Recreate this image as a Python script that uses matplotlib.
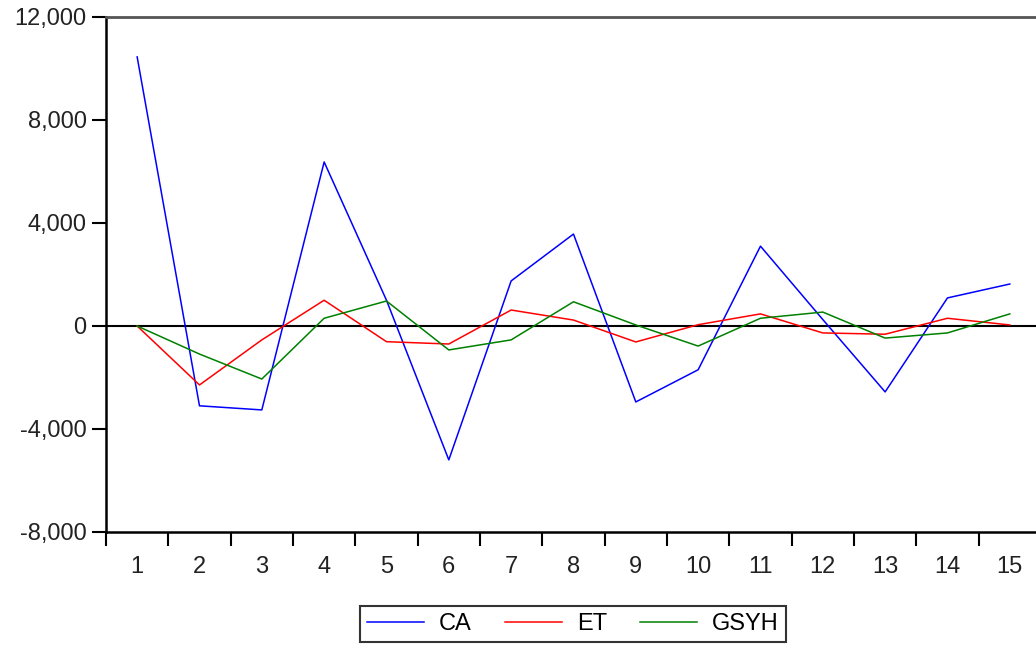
import matplotlib
matplotlib.use("Agg")
import matplotlib.pyplot as plt
from matplotlib.ticker import FuncFormatter

# Data
periods = list(range(1, 16))
ca = [10450, -3100, -3260, 6370, 1000, -5200, 1750, 3570, -2950, -1700,
      3100, 250, -2560, 1090, 1630]
et = [0, -2290, -540, 1000, -610, -700, 620, 230, -620, 50,
      470, -270, -320, 300, 40]
gsyh = [0, -1090, -2060, 300, 970, -930, -540, 940, 40, -780,
        300, 540, -470, -270, 470]

plt.rcParams['font.family'] = ['Liberation Sans', 'DejaVu Sans']

fig = plt.figure(figsize=(10.36, 6.46), dpi=100)
ax = fig.add_axes([0.1023, 0.1765, 0.9025, 0.7972])

ax.plot(periods, ca, color='#0000ff', lw=1.1, label='CA')
ax.plot(periods, et, color='#ff0000', lw=1.1, label='ET')
ax.plot(periods, gsyh, color='#008000', lw=1.1, label='GSYH')
ax.axhline(0, color='black', lw=1.5, zorder=0)

ax.set_xlim(0.5, 15.5)
ax.set_ylim(-8000, 12000)

# category labels at integers, tick marks between categories
ax.set_xticks(periods)
ax.set_xticklabels([str(p) for p in periods])
ax.set_xticks([p + 0.5 for p in range(0, 15)], minor=True)
ax.tick_params(axis='x', which='major', length=0, pad=17)
ax.tick_params(axis='x', which='minor', length=10, width=1.5, direction='out')

ax.set_yticks([-8000, -4000, 0, 4000, 8000, 12000])
ax.yaxis.set_major_formatter(FuncFormatter(lambda v, p: f"{int(v):,}"))
ax.tick_params(axis='y', length=10, width=1.5, direction='out', pad=4)
ax.tick_params(labelsize=17, labelcolor='#222222')

for side in ['left', 'bottom']:
    ax.spines[side].set_linewidth(1.8)
ax.spines['top'].set_linewidth(2)
ax.spines['top'].set_color('#555555')
ax.spines['right'].set_visible(False)

leg = fig.legend(loc='center', bbox_to_anchor=(0.553, 0.034), ncol=3,
                 fontsize=17, frameon=True, fancybox=False, edgecolor='black',
                 handlelength=2.4, columnspacing=1.4, borderpad=0.3,
                 handletextpad=0.65)
leg.get_frame().set_linewidth(1.5)

fig.savefig('out.png', dpi=100)
